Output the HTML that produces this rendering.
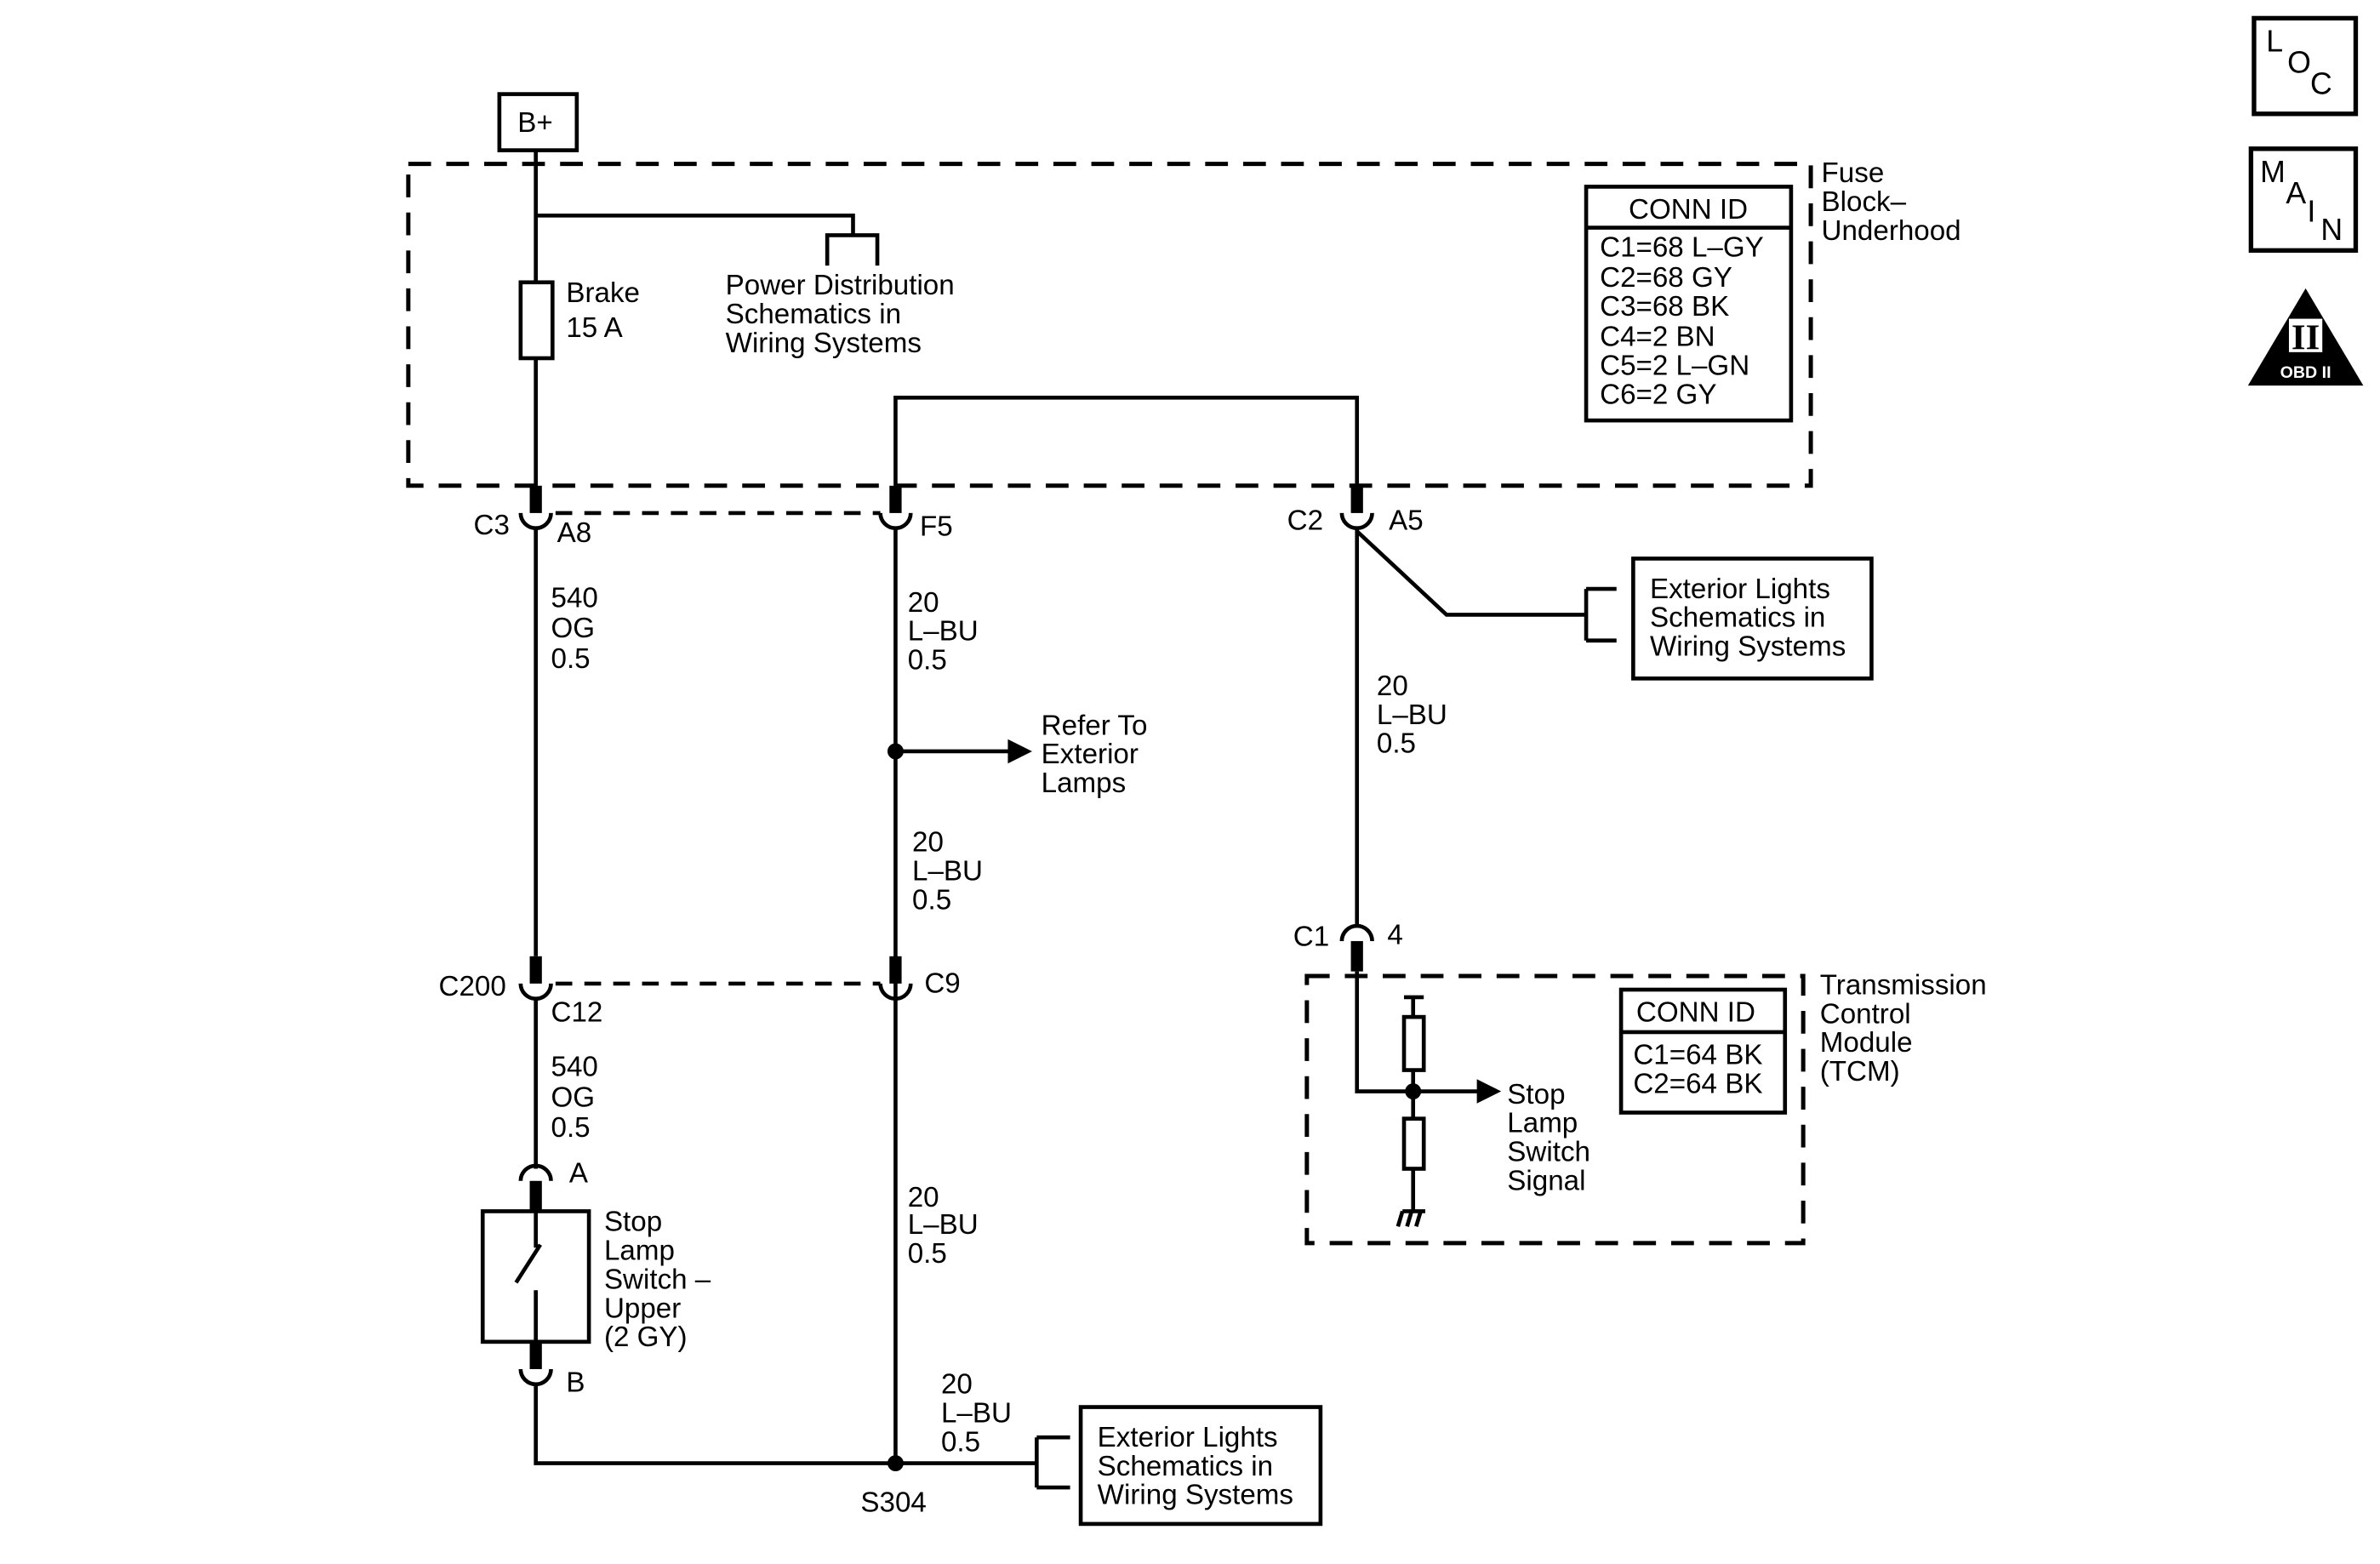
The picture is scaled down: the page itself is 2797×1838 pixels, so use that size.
<!DOCTYPE html>
<html><head><meta charset="utf-8"><style>html,body{margin:0;padding:0;background:#fff}svg{display:block}</style></head>
<body>
<svg width="2797" height="1838" viewBox="0 0 1568 1030.4" preserveAspectRatio="none" xmlns="http://www.w3.org/2000/svg" font-family="Liberation Sans, sans-serif" font-size="18.6" fill="#000">
<g fill="none" stroke="#000" stroke-width="2.6">
<rect x="269" y="108" width="924" height="212" stroke-dasharray="15 10" stroke-width="2.8"/>
<rect x="329" y="62" width="51" height="37"/>
<path d="M353 99V320M353 142H562V155M545 175V155H578V175"/>
<rect x="343" y="186" width="21" height="50" fill="#fff"/>
<path d="M590 320V262H894V320"/>
<rect x="1045" y="123" width="135" height="154"/>
<path d="M1045 150H1180"/>
<path d="M343 338A10 10 0 0 0 363 338M580 338A10 10 0 0 0 600 338M884 338A10 10 0 0 0 904 338"/>
<path d="M366 338H580" stroke-dasharray="11 8"/>
<path d="M353 348V630M590 348V964M894 348V610"/>
<circle cx="590" cy="495" r="4" fill="#000"/>
<path d="M590 495H666"/>
<path d="M894 350L953 405H1045M1045 388V422M1045 388H1065M1045 422H1065"/>
<rect x="1076" y="368" width="157" height="79"/>
<path d="M343 648A10 10 0 0 0 363 648M580 648A10 10 0 0 0 600 648"/>
<path d="M366 648H580" stroke-dasharray="11 8"/>
<path d="M353 658V770"/>
<path d="M343 778A10 10 0 0 1 363 778"/>
<rect x="318" y="798" width="70" height="86"/>
<path d="M353 798V822M340 845L356 820M353 850V884"/>
<path d="M343 902A10 10 0 0 0 363 902M353 912V964H590"/>
<circle cx="590" cy="964" r="4" fill="#000"/>
<path d="M590 964H683M683 947V980M683 947H705M683 980H705"/>
<rect x="712" y="927" width="158" height="77"/>
<path d="M884 620A10 10 0 0 1 904 620"/>
<rect x="861" y="643" width="327" height="176" stroke-dasharray="15 10" stroke-width="2.8"/>
<path d="M894 640V719H975"/>
<circle cx="931" cy="719" r="4" fill="#000"/>
<path d="M925 657H938M931 657V670M931 705V737M931 770V798M921 808L924 798M927 808L930 798M933 808L936 798M924 798H939"/>
<rect x="925" y="670" width="13" height="35"/>
<rect x="925" y="737" width="13" height="33"/>
<rect x="1068" y="652" width="108" height="81"/>
<path d="M1068 680H1176"/>
<rect x="1485" y="12" width="67" height="63" stroke-width="3"/>
<rect x="1483" y="98" width="69" height="67" stroke-width="3"/>
</g>
<g fill="#000">
<rect x="349" y="320" width="8" height="18"/><rect x="586" y="320" width="8" height="18"/><rect x="890" y="320" width="8" height="18"/>
<rect x="349" y="630" width="8" height="18"/><rect x="586" y="630" width="8" height="18"/>
<rect x="349" y="778" width="8" height="20"/><rect x="349" y="884" width="8" height="18"/>
<rect x="890" y="620" width="8" height="20"/>
<path d="M664 487L680 495L664 503Z"/>
<path d="M973 711L989 719L973 727Z"/>
<path d="M1519 190L1557 254H1481Z"/>
</g>
<rect x="1508" y="210" width="22" height="22" fill="#fff"/>
<text x="1519" y="230" font-family="Liberation Serif, serif" font-size="24" font-weight="bold" text-anchor="middle">II</text>
<text x="1519" y="249" font-size="11" font-weight="bold" fill="#fff" text-anchor="middle">OBD II</text>
<g font-size="20">
<text x="1493" y="34">L</text><text x="1507" y="48">O</text><text x="1522" y="62">C</text>
<text x="1489" y="120">M</text><text x="1506" y="134">A</text><text x="1520" y="146">I</text><text x="1529" y="158">N</text>
</g>
<text x="341" y="87">B+</text>
<text x="373" y="199">Brake</text><text x="373" y="222">15 A</text>
<text x="478" y="194">Power Distribution</text><text x="478" y="213">Schematics in</text><text x="478" y="232">Wiring Systems</text>
<text x="1073" y="144">CONN ID</text>
<text x="1054" y="169">C1=68 L–GY</text><text x="1054" y="189">C2=68 GY</text><text x="1054" y="208">C3=68 BK</text><text x="1054" y="228">C4=2 BN</text><text x="1054" y="247">C5=2 L–GN</text><text x="1054" y="266">C6=2 GY</text>
<text x="1200" y="120">Fuse</text><text x="1200" y="139">Block–</text><text x="1200" y="158">Underhood</text>
<text x="312" y="352">C3</text><text x="367" y="357">A8</text><text x="606" y="353">F5</text>
<text x="848" y="349">C2</text><text x="915" y="349">A5</text>
<text x="363" y="400">540</text><text x="363" y="420">OG</text><text x="363" y="440">0.5</text>
<text x="598" y="403">20</text><text x="598" y="422">L–BU</text><text x="598" y="441">0.5</text>
<text x="686" y="484">Refer To</text><text x="686" y="503">Exterior</text><text x="686" y="522">Lamps</text>
<text x="601" y="561">20</text><text x="601" y="580">L–BU</text><text x="601" y="599">0.5</text>
<text x="1087" y="394">Exterior Lights</text><text x="1087" y="413">Schematics in</text><text x="1087" y="432">Wiring Systems</text>
<text x="907" y="458">20</text><text x="907" y="477">L–BU</text><text x="907" y="496">0.5</text>
<text x="852" y="623">C1</text><text x="914" y="622">4</text>
<text x="289" y="656">C200</text><text x="363" y="673">C12</text><text x="609" y="654">C9</text>
<text x="363" y="709">540</text><text x="363" y="729">OG</text><text x="363" y="749">0.5</text>
<text x="375" y="779">A</text>
<text x="398" y="811">Stop</text><text x="398" y="830">Lamp</text><text x="398" y="849">Switch –</text><text x="398" y="868">Upper</text><text x="398" y="887">(2 GY)</text>
<text x="373" y="917">B</text>
<text x="598" y="795">20</text><text x="598" y="813">L–BU</text><text x="598" y="832">0.5</text>
<text x="620" y="918">20</text><text x="620" y="937">L–BU</text><text x="620" y="956">0.5</text>
<text x="567" y="996">S304</text>
<text x="723" y="953">Exterior Lights</text><text x="723" y="972">Schematics in</text><text x="723" y="991">Wiring Systems</text>
<text x="993" y="727">Stop</text><text x="993" y="746">Lamp</text><text x="993" y="765">Switch</text><text x="993" y="784">Signal</text>
<text x="1078" y="673">CONN ID</text><text x="1076" y="701">C1=64 BK</text><text x="1076" y="720">C2=64 BK</text>
<text x="1199" y="655">Transmission</text><text x="1199" y="674">Control</text><text x="1199" y="693">Module</text><text x="1199" y="712">(TCM)</text>
</svg>
</body></html>
